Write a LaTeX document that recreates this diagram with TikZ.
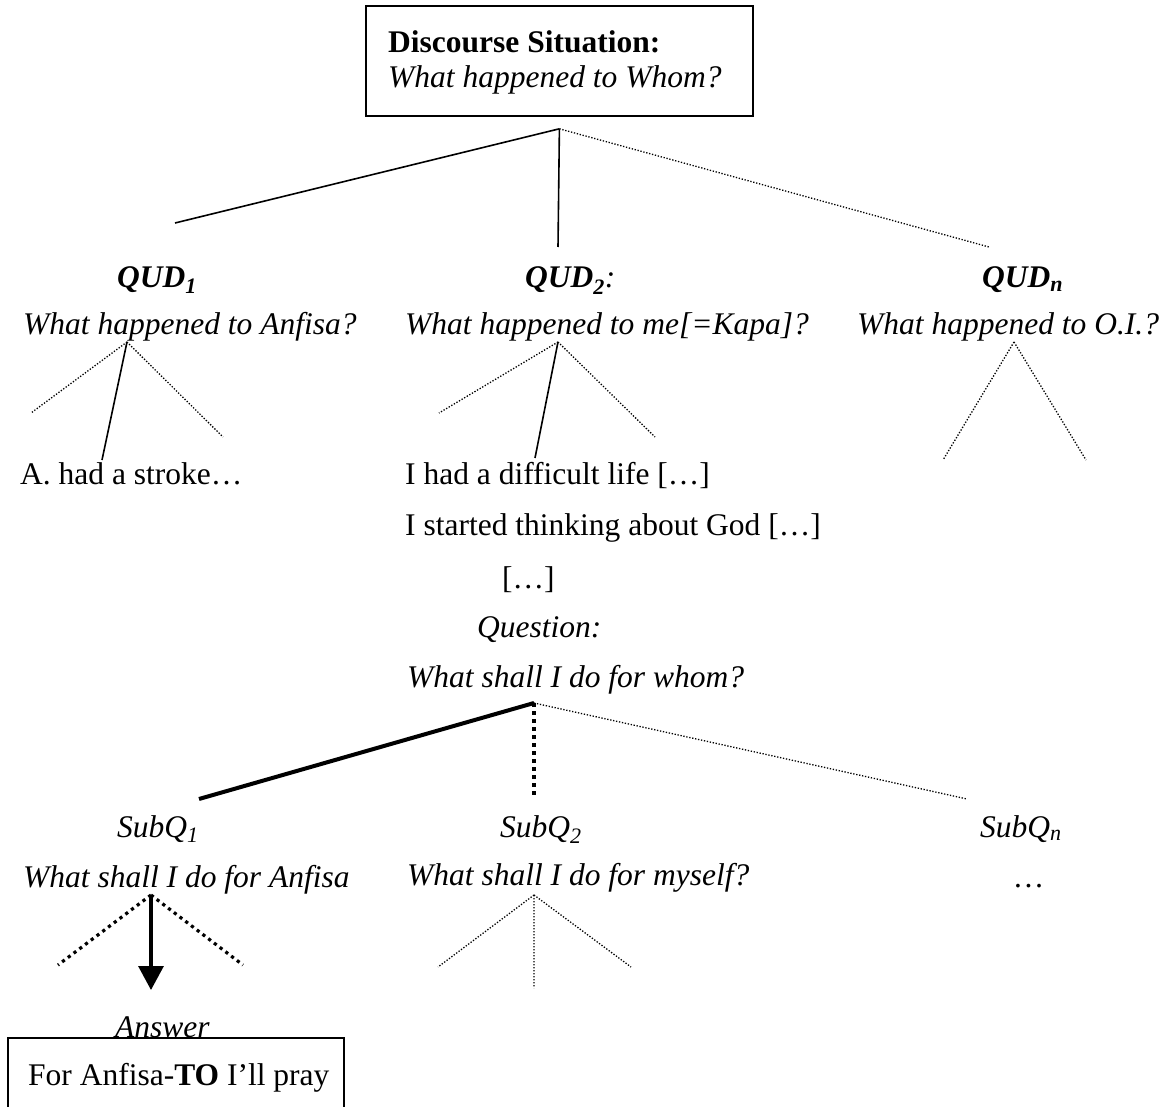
\documentclass[tikz,border=0pt]{standalone}
\usepackage{fontspec}
\setmainfont{Liberation Serif}
\usepackage{tikz}
\usetikzlibrary{calc,positioning,arrows.meta}

\newcommand{\bigtext}{\fontsize{31.5}{38}\selectfont}
\tikzset{
  txt/.style={inner sep=0pt, anchor=base west, font=\bigtext},
  itxt/.style={txt, font=\bigtext\itshape},
  btxt/.style={txt, font=\bigtext\bfseries\itshape},
  tree/.style={line width=1.6pt},
  dots/.style={line width=1.3pt, dash pattern=on 1.3pt off 1.7pt},
  fatdots/.style={line width=3.2pt, dash pattern=on 3.2pt off 4pt},
  box/.style={draw, line width=1.8pt, inner sep=0pt, anchor=north west}
}

\begin{document}
\begin{tikzpicture}[x=1pt,y=-1pt]
  \useasboundingbox (0,0) rectangle (1173,1107);
  \clip (0,0) rectangle (1173,1107);

  % discourse situation
  \node[box, minimum width=387pt, minimum height=110pt] (ds_box) at (365,5) {};
  \node[txt, font=\bigtext\bfseries] (ds_t) at (388,53) {Discourse Situation:};
  \node[itxt] (ds_q) at (388,88) {What happened to Whom?};

  % QUDs
  \node[btxt] (qud_1) at (117,288) {QUD\textsubscript{1}};
  \node[btxt] (qud_2) at (525,288) {QUD\textsubscript{2}\textmd{:}};
  \node[btxt] (qud_n) at (982,288) {QUD\textsubscript{n}};
  \node[itxt] (qq_1) at (23,335)  {What happened to Anfisa?};
  \node[itxt] (qq_2) at (405,335) {What happened to me[=Kapa]?};
  \node[itxt] (qq_n) at (857,335) {What happened to O.I.?};

  \node[txt] (ans_1) at (20,484)  {A. had a stroke…};
  \node[txt] (ans_2) at (405,484) {I had a difficult life […]};
  \node[txt] (ans_3) at (405,535) {I started thinking about God […]};
  \node[txt] (ans_4) at (502,588) {[…]};
  \node[itxt] (qn_t) at (477,637) {Question:};
  \node[itxt] (qn_q) at (407,687) {What shall I do for whom?};

  % sub-questions
  \node[itxt] (sub_1) at (117,837) {SubQ\textsubscript{1}};
  \node[itxt] (sub_2) at (500,837) {SubQ\textsubscript{2}};
  \node[itxt] (sub_n) at (980,837) {SubQ\textsubscript{n}};
  \node[itxt] (sq_1) at (23,887)  {What shall I do for Anfisa};
  \node[itxt] (sq_2) at (407,885) {What shall I do for myself?};
  \node[itxt] (sq_n) at (1015,887) {…};

  % answer
  \node[box, minimum width=336pt, minimum height=100pt] (ans_box) at (7,1037) {};
  \node[itxt] (an_t) at (115,1037) {Answer};
  \node[txt] (an_a) at (28,1085) {For Anfisa-\textbf{TO} I’ll pray};

  % branching points
  \coordinate (ds)  at ($(ds_box.south)+(0,12)$);
  \coordinate (q_1) at (127,342);
  \coordinate (q_2) at (558,342);
  \coordinate (q_n) at (1014,342);
  \coordinate (wh)  at (534,703);
  \coordinate (s_1) at (151,895);
  \coordinate (s_2) at (534,895);

  % loose ends
  \coordinate (ds_l) at (175,223);
  \coordinate (ds_m) at (558,247);
  \coordinate (ds_r) at (989,247);
  \coordinate (q_1l) at (31,413);
  \coordinate (q_1m) at (102,460);
  \coordinate (q_1r) at (223,437);
  \coordinate (q_2l) at (439,413);
  \coordinate (q_2m) at (535,458);
  \coordinate (q_2r) at (655,437);
  \coordinate (q_nl) at (943,460);
  \coordinate (q_nr) at (1086,460);
  \coordinate (wh_l) at (199,799);
  \coordinate (wh_m) at (534,795);
  \coordinate (wh_r) at (967,799);
  \coordinate (s_1l) at (58,965);
  \coordinate (s_1m) at (151,990);
  \coordinate (s_1r) at (243,965);
  \coordinate (s_2l) at (438,967);
  \coordinate (s_2m) at (534,988);
  \coordinate (s_2r) at (631,967);

  \draw[tree] (ds) -- (ds_l) (ds) -- (ds_m);
  \draw[dots] (ds) -- (ds_r);

  \draw[dots] (q_1) -- (q_1l) (q_1) -- (q_1r);
  \draw[tree] (q_1) -- (q_1m);
  \draw[dots] (q_2) -- (q_2l) (q_2) -- (q_2r);
  \draw[tree] (q_2) -- (q_2m);
  \draw[dots] (q_n) -- (q_nl) (q_n) -- (q_nr);

  \draw[line width=4pt] (wh) -- (wh_l);
  \draw[line width=4pt, dash pattern=on 4pt off 4pt] (wh) -- (wh_m);
  \draw[dots] (wh) -- (wh_r);

  \draw[fatdots] (s_1) -- (s_1l) (s_1) -- (s_1r);
  \draw[line width=3.2pt, -{Triangle[width=25pt,length=24pt]}] (s_1) -- (s_1m);
  \draw[dots] (s_2) -- (s_2l) (s_2) -- (s_2r) (s_2) -- (s_2m);
\end{tikzpicture}
\end{document}
